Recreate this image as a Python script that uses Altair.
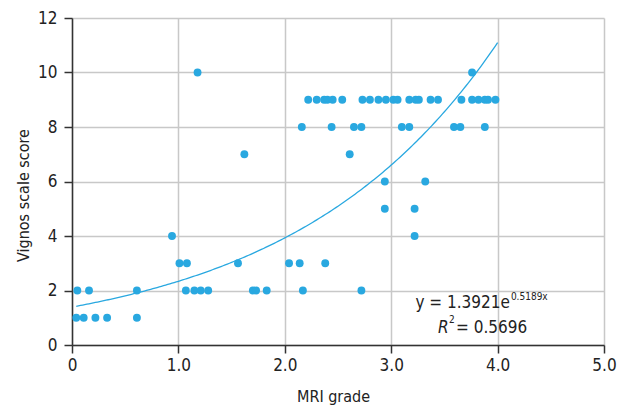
import altair as alt
import pandas as pd

# Scatter data: MRI grade (x) vs Vignos scale score (y)
x_vals = [0.04, 0.11, 0.22, 0.33, 0.61,
          0.05, 0.16, 0.61, 1.07, 1.15, 1.21, 1.28, 1.70, 1.73, 1.83, 2.17, 2.72,
          1.01, 1.08, 1.56, 2.04, 2.14, 2.38,
          0.94, 3.22,
          2.94, 3.22,
          2.94, 3.32,
          1.62, 2.61,
          2.16, 2.44, 2.65, 2.72, 3.10, 3.17, 3.59, 3.65, 3.88,
          2.22, 2.30, 2.37, 2.40, 2.45, 2.54, 2.73, 2.80, 2.88, 2.95, 3.02, 3.06,
          3.17, 3.23, 3.26, 3.37, 3.44, 3.66, 3.76, 3.82, 3.88, 3.91, 3.98,
          1.18, 3.76]
y_vals = [1] * 5 + [2] * 12 + [3] * 6 + [4] * 2 + [5] * 2 + [6] * 2 + [7] * 2 + [8] * 9 + [9] * 23 + [10] * 2

# Fitted exponential trend (from the chart's equation)
fit_a = 1.3921
fit_b = 0.5189
fit_x_start = 0.04
fit_x_end = 4.0

x_ticks = [0, 1, 2, 3, 4, 5]
y_ticks = [0, 2, 4, 6, 8, 10, 12]

FONT = "DejaVu Sans Condensed"
BLUE = "#29a8e0"
TXT = "#222222"

pts = pd.DataFrame({"x": x_vals, "y": y_vals})

xscale = alt.Scale(domain=[0, 5], nice=False)
yscale = alt.Scale(domain=[0, 12], nice=False)

xaxis = alt.Axis(values=x_ticks, title="MRI grade", labelFlush=False,
                 labelExpr="datum.value == 0 ? '0' : format(datum.value, '.1f')",
                 titleBaseline="alphabetic", titleY=56, titleX=261, labelPadding=4)
yaxis = alt.Axis(values=y_ticks, title="Vignos scale score", format="d", labelFlush=False,
                 titleBaseline="alphabetic", titleX=-44, titleY=177, titleAngle=270,
                 labelPadding=7)

points = alt.Chart(pts).mark_circle(size=62, color=BLUE, opacity=1).encode(
    x=alt.X("x:Q", scale=xscale, axis=xaxis),
    y=alt.Y("y:Q", scale=yscale, axis=yaxis),
)

curve = alt.Chart(alt.sequence(fit_x_start, fit_x_end + 0.001, 0.02, as_="x")).transform_calculate(
    y=f"{fit_a} * exp({fit_b} * datum.x)"
).mark_line(color=BLUE, strokeWidth=1.3).encode(
    x=alt.X("x:Q", scale=xscale),
    y=alt.Y("y:Q", scale=yscale),
)

eq_main = pd.DataFrame({"x": [4.116], "y": [1.36], "t": ["y = 1.3921e"]})
eq_sup = pd.DataFrame({"x": [4.125], "y": [1.66], "t": ["0.5189x"]})
r_lab = pd.DataFrame({"x": [3.44], "y": [0.44], "t": ["R"]})
r_sup = pd.DataFrame({"x": [3.543], "y": [0.8], "t": ["2"]})
r_val = pd.DataFrame({"x": [3.61], "y": [0.44], "t": ["= 0.5696"]})

def txt(df, size, align, style="normal"):
    return alt.Chart(df).mark_text(font=FONT, fontSize=size, align=align, baseline="alphabetic",
                                   color=TXT, fontStyle=style).encode(
        x=alt.X("x:Q", scale=xscale), y=alt.Y("y:Q", scale=yscale), text="t:N")

chart = alt.layer(
    points, curve,
    txt(eq_main, 17, "right"),
    txt(eq_sup, 10, "left"),
    txt(r_lab, 17, "left", "italic"),
    txt(r_sup, 10, "left"),
    txt(r_val, 17, "left"),
).properties(
    width=532, height=327,
    padding={"left": 72, "top": 18, "right": 15, "bottom": 62},
    autosize=alt.AutoSizeParams(type="none"),
).configure_view(strokeWidth=0).configure_axis(
    labelFont=FONT, titleFont=FONT, labelFontSize=17, titleFontSize=16,
    titleFontWeight="normal", labelColor=TXT, titleColor=TXT,
    gridColor="#c8c8c8", gridWidth=1.5, domainColor="#333333", domainWidth=1.5,
    tickColor="#333333", tickWidth=1.5, tickSize=8,
)

chart.save("out.html", embed_options={"renderer": "svg", "actions": False})
